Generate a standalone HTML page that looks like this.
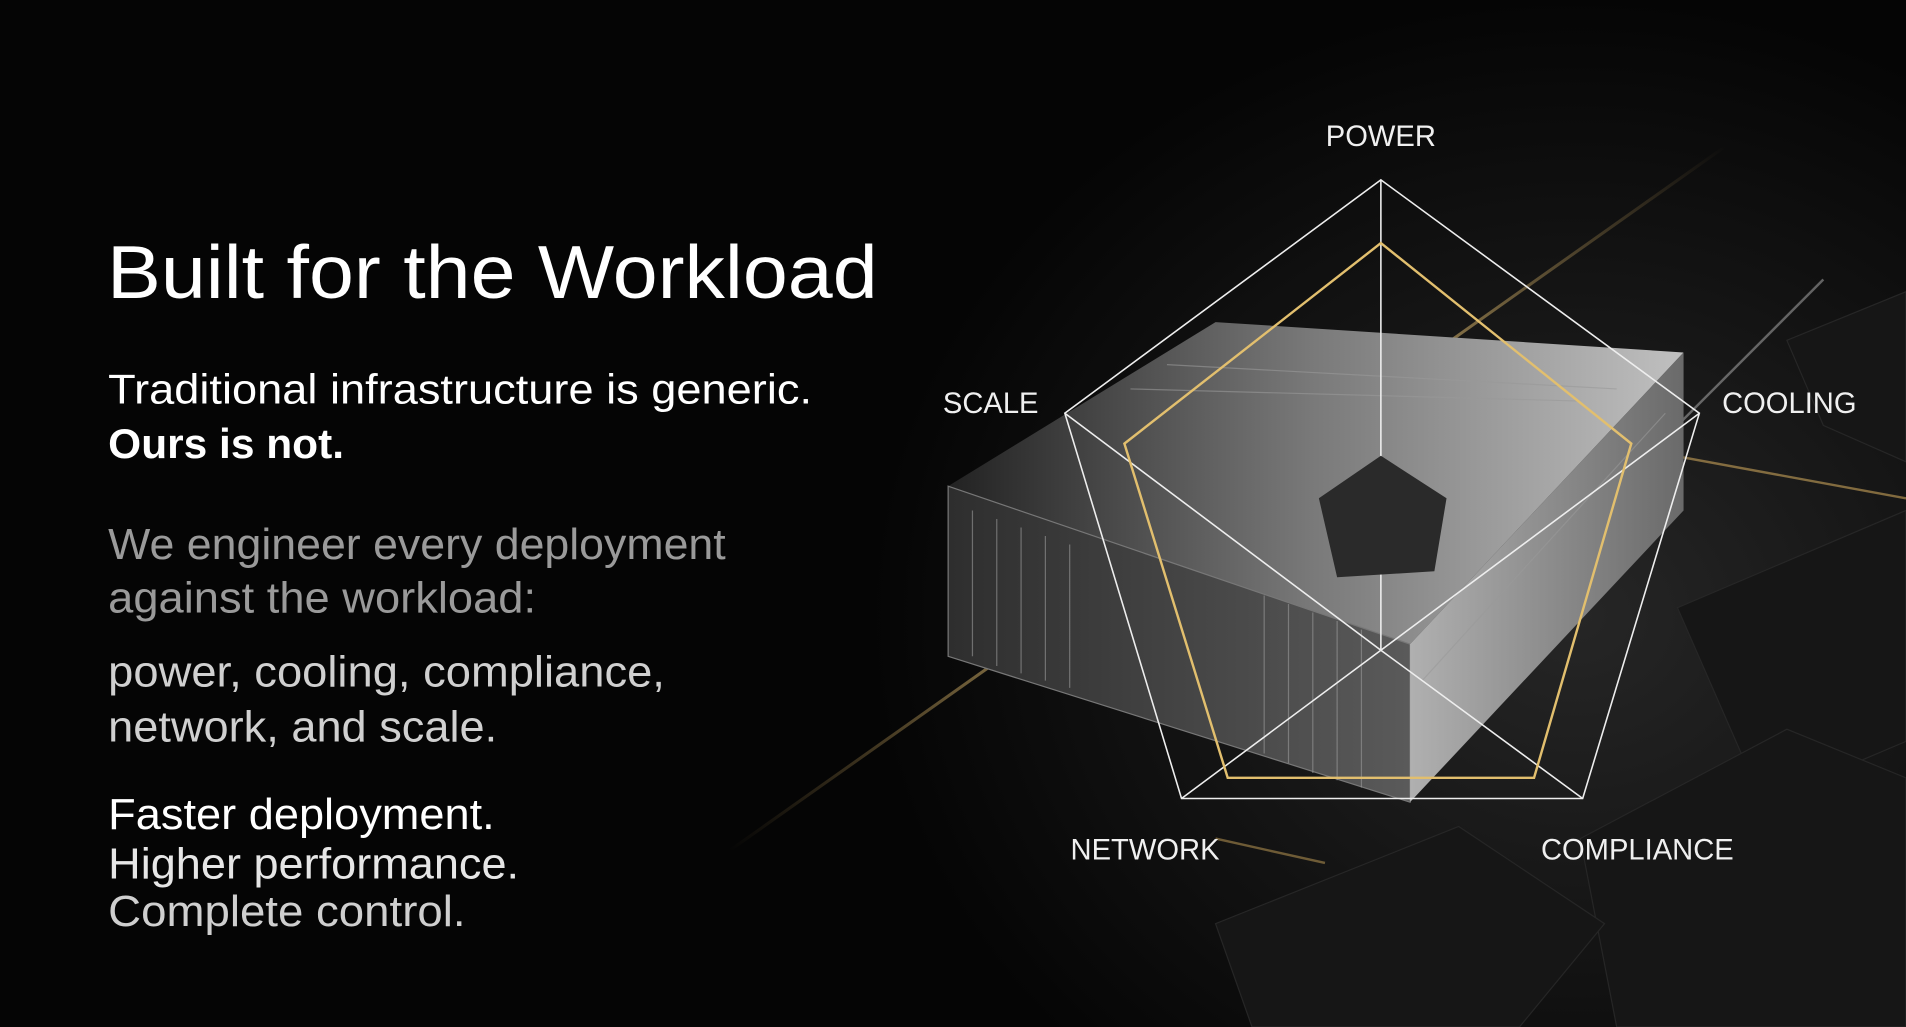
<!DOCTYPE html>
<html><head><meta charset="utf-8"><style>
html,body{margin:0;padding:0;background:#000;}
svg{display:block;}
text{font-family:"Liberation Sans",sans-serif;}
</style></head><body>
<svg width="1906" height="1027" viewBox="0 0 1568 845" preserveAspectRatio="none" xmlns="http://www.w3.org/2000/svg">
<defs>
<radialGradient id="bg" cx="0.72" cy="0.6" r="0.6">
<stop offset="0" stop-color="#262626"/><stop offset="0.6" stop-color="#121212"/><stop offset="1" stop-color="#050505"/>
</radialGradient>
<linearGradient id="top" x1="0" y1="0" x2="1" y2="0">
<stop offset="0" stop-color="#222"/><stop offset="0.5" stop-color="#7a7a7a"/><stop offset="1" stop-color="#c0c0c0"/>
</linearGradient>
<linearGradient id="front" x1="0" y1="0" x2="1" y2="0">
<stop offset="0" stop-color="#2e2e2e"/><stop offset="1" stop-color="#5a5a5a"/>
</linearGradient>
<linearGradient id="side" x1="0" y1="0" x2="1" y2="0">
<stop offset="0" stop-color="#b0b0b0"/><stop offset="1" stop-color="#6a6a6a"/>
</linearGradient>
<linearGradient id="gold" x1="0" y1="1" x2="1" y2="0">
<stop offset="0" stop-color="#c9a35a" stop-opacity="0"/><stop offset="0.5" stop-color="#e8c77a"/><stop offset="1" stop-color="#c9a35a" stop-opacity="0"/>
</linearGradient>
</defs>
<rect width="1568" height="845" fill="#050505"/>
<rect x="600" width="968" height="845" fill="url(#bg)"/>
<g fill="#161616" stroke="#262626">
<polygon points="1380,500 1568,420 1568,610 1450,660"/>
<polygon points="1300,690 1470,600 1568,640 1568,845 1330,845"/>
<polygon points="1000,760 1200,680 1320,760 1250,845 1030,845"/>
<polygon points="1470,280 1568,240 1568,380 1500,350"/>
</g>
<line x1="600" y1="700" x2="1420" y2="120" stroke="url(#gold)" stroke-width="2.5"/>
<line x1="1350" y1="370" x2="1568" y2="410" stroke="#c9a35a" stroke-width="2" opacity="0.6"/>
<line x1="1250" y1="480" x2="1500" y2="230" stroke="#ddd" stroke-width="2" opacity="0.4"/>
<line x1="1000" y1="690" x2="1090" y2="710" stroke="#c9a35a" stroke-width="2" opacity="0.5"/>
<polygon points="780,400 1000,265 1385,290 1160,530" fill="url(#top)"/>
<polygon points="780,400 1160,530 1160,660 780,540" fill="url(#front)" stroke="#777" stroke-width="1"/>
<polygon points="1160,530 1385,290 1385,420 1160,660" fill="url(#side)"/>
<g stroke="#999" stroke-width="1" opacity="0.6" fill="none">
<line x1="800" y1="420" x2="800" y2="540"/><line x1="820" y1="427" x2="820" y2="548"/>
<line x1="840" y1="434" x2="840" y2="554"/><line x1="860" y1="441" x2="860" y2="560"/>
<line x1="880" y1="448" x2="880" y2="566"/><line x1="1040" y1="490" x2="1040" y2="620"/>
<line x1="1060" y1="497" x2="1060" y2="628"/><line x1="1080" y1="504" x2="1080" y2="636"/>
<line x1="1100" y1="511" x2="1100" y2="642"/><line x1="1120" y1="518" x2="1120" y2="648"/>
<line x1="930" y1="320" x2="1300" y2="330"/><line x1="960" y1="300" x2="1330" y2="320"/>
<line x1="1170" y1="560" x2="1370" y2="340"/>
</g>
<g fill="none" stroke="#eee" stroke-width="1.3">
<polygon points="1136,148 1398,340 1302,657 972,657 876,340"/>
<line x1="1136" y1="148" x2="1136" y2="535"/>
<line x1="1398" y1="340" x2="1136" y2="535"/>
<line x1="1302" y1="657" x2="1136" y2="535"/>
<line x1="972" y1="657" x2="1136" y2="535"/>
<line x1="876" y1="340" x2="1136" y2="535"/>
</g>
<polygon points="1136,200 1342,365 1262,640 1010,640 925,365" fill="none" stroke="#e2bf6e" stroke-width="2"/>
<polygon points="1136,375 1190,410 1180,470 1100,475 1085,410" fill="#2a2a2a"/>
<g fill="#f0f0f0" font-size="24" text-anchor="middle">
<text x="1136" y="120">POWER</text>
<text x="815" y="340">SCALE</text>
<text x="1472" y="340">COOLING</text>
<text x="942" y="707">NETWORK</text>
<text x="1347" y="707">COMPLIANCE</text>
</g>
<g lengthAdjust="spacingAndGlyphs">
<text x="88" y="245" fill="#fff" font-size="62" textLength="634" lengthAdjust="spacingAndGlyphs">Built for the Workload</text>
<text x="89" y="332" fill="#fff" font-size="34" textLength="579" lengthAdjust="spacingAndGlyphs">Traditional infrastructure is generic.</text>
<text x="89" y="377" fill="#fff" font-size="34" font-weight="bold" textLength="194" lengthAdjust="spacingAndGlyphs">Ours is not.</text>
<text x="89" y="460" fill="#9a9a9a" font-size="36" textLength="508" lengthAdjust="spacingAndGlyphs">We engineer every deployment</text>
<text x="89" y="504" fill="#9a9a9a" font-size="36" textLength="352" lengthAdjust="spacingAndGlyphs">against the workload:</text>
<text x="89" y="565" fill="#d0d0d0" font-size="36" textLength="458" lengthAdjust="spacingAndGlyphs">power, cooling, compliance,</text>
<text x="89" y="610" fill="#d0d0d0" font-size="36" textLength="320" lengthAdjust="spacingAndGlyphs">network, and scale.</text>
<text x="89" y="682" fill="#fff" font-size="36" textLength="318" lengthAdjust="spacingAndGlyphs">Faster deployment.</text>
<text x="89" y="723" fill="#e6e6e6" font-size="36" textLength="338" lengthAdjust="spacingAndGlyphs">Higher performance.</text>
<text x="89" y="762" fill="#cfcfcf" font-size="36" textLength="294" lengthAdjust="spacingAndGlyphs">Complete control.</text>
</g>
</svg>
</body></html>
